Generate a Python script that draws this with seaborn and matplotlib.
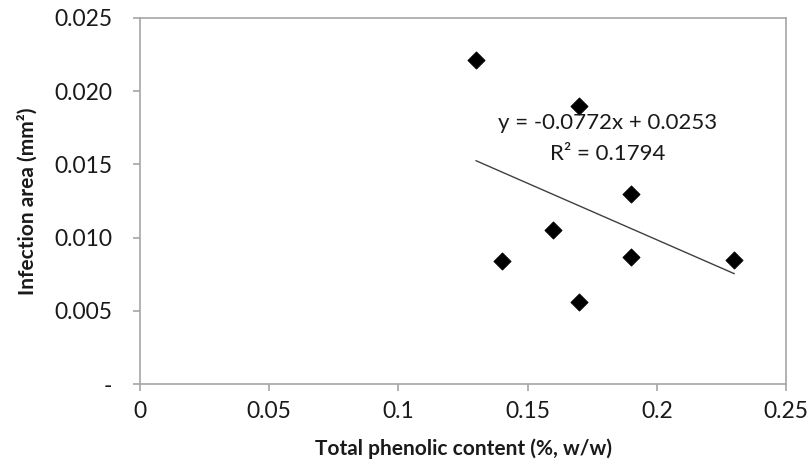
import matplotlib
matplotlib.use("Agg")
import matplotlib.pyplot as plt
import seaborn as sns
import numpy as np
import pandas as pd

# -------------------------
# Data
# -------------------------
phenolic = [0.13, 0.17, 0.19, 0.16, 0.14, 0.19, 0.23, 0.17]
infection = [0.0221, 0.0190, 0.0130, 0.0105, 0.0084, 0.0087, 0.0085, 0.0056]

x_ticks = [0, 0.05, 0.1, 0.15, 0.2, 0.25]
x_tick_labels = ["0", "0.05", "0.1", "0.15", "0.2", "0.25"]
y_ticks = [0, 0.005, 0.010, 0.015, 0.020, 0.025]
y_tick_labels = ["-", "0.005", "0.010", "0.015", "0.020", "0.025"]

equation = "y = -0.0772x + 0.0253"
r2_text = "R² = 0.1794"

df = pd.DataFrame({"phenolic": phenolic, "infection": infection})

# -------------------------
# Style
# -------------------------
sns.set_style("white")
plt.rcParams["font.family"] = ["Lato", "DejaVu Sans"]

fig = plt.figure(figsize=(8.12, 4.73), dpi=100)
ax = fig.add_axes([0.1724, 0.188, 0.7956, 0.774])

# trend line
sns.regplot(data=df, x="phenolic", y="infection", scatter=False, ci=None,
            color="#404040", line_kws={"linewidth": 1.0}, ax=ax)

# points
sns.scatterplot(data=df, x="phenolic", y="infection", marker="D", s=75,
                color="black", edgecolor="black", ax=ax, zorder=3)

ax.set_xlim(0, 0.25)
ax.set_ylim(0, 0.025)
ax.set_xticks(x_ticks)
ax.set_xticklabels(x_tick_labels)
ax.set_yticks(y_ticks)
ax.set_yticklabels(y_tick_labels)

for s in ax.spines.values():
    s.set_color("#a6a6a6")
    s.set_linewidth(1.2)

ax.tick_params(axis="both", which="major", direction="out", length=5,
               width=1.2, color="#a6a6a6", labelsize=16.5, labelcolor="#1a1a1a")
ax.tick_params(axis="x", pad=7)
ax.tick_params(axis="y", pad=15)
ax.xaxis.set_ticks_position("bottom")
ax.yaxis.set_ticks_position("left")

ax.set_xlabel("Total phenolic content (%, w/w)", fontsize=15, fontweight="bold",
              color="#1a1a1a", labelpad=12)
ax.set_ylabel("Infection area (mm²)", fontsize=15, fontweight="bold",
              color="#1a1a1a", labelpad=12)

# equation annotation
ax.text(0.181, 0.0178, equation, fontsize=16, color="#1a1a1a",
        ha="center", va="center")
ax.text(0.181, 0.0157, r2_text, fontsize=16, color="#1a1a1a",
        ha="center", va="center")

plt.savefig("out.png", dpi=100)
